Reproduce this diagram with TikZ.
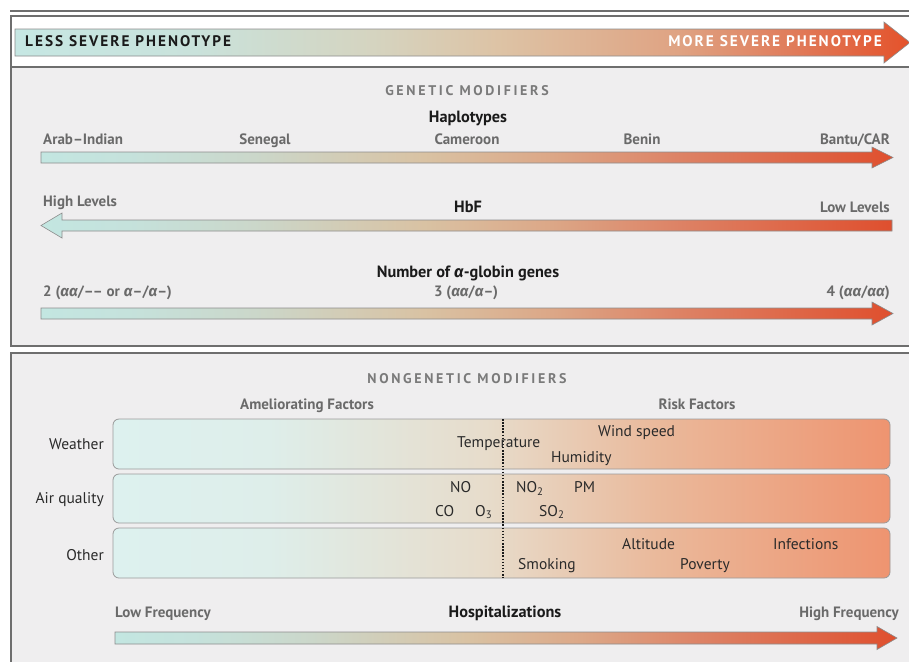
\documentclass[tikz,border=0pt]{standalone}
\usepackage{fontspec}
\setmainfont{PT Sans}
\newfontfamily\grkfont{Fira Sans}
\newcommand{\alp}{{\grkfont\itshape α}}
\definecolor{framegray}{HTML}{6E6E6E}
\definecolor{bggray}{HTML}{EFEEEF}
\definecolor{labelgray}{HTML}{6A6A6A}
\definecolor{hdrgray}{HTML}{7A7A7A}
\definecolor{titleblack}{HTML}{1A1A1A}
\definecolor{rowblack}{HTML}{2A2A2A}
\definecolor{arrowedge}{HTML}{8C8C8C}
\definecolor{boxedge}{HTML}{9A9A9A}
% arrow gradient stops
\definecolor{sA}{HTML}{C3E6E1}
\definecolor{sB}{HTML}{C5E2DC}
\definecolor{sC}{HTML}{CBD7CA}
\definecolor{sD}{HTML}{D9C2A3}
\definecolor{sE}{HTML}{DCA787}
\definecolor{sF}{HTML}{DD8265}
\definecolor{sG}{HTML}{DF4F2E}
% phenotype gradient stops
\definecolor{pA}{HTML}{C6E7E3}
\definecolor{pB}{HTML}{C9E2DB}
\definecolor{pC}{HTML}{D5D4C0}
\definecolor{pD}{HTML}{DDC3A5}
\definecolor{pE}{HTML}{DFA383}
\definecolor{pF}{HTML}{E07E5D}
\definecolor{pG}{HTML}{E4522B}
% box gradient stops
\definecolor{bA}{HTML}{DDF1EF}
\definecolor{bB}{HTML}{DEEEEA}
\definecolor{bC}{HTML}{E7DCCB}
\definecolor{bD}{HTML}{EAB99B}
\definecolor{bE}{HTML}{EE9470}
\pgfdeclarehorizontalshading{sevshade}{100bp}{color(0bp)=(sA); color(25bp)=(sA); color(30bp)=(sB); color(37.5bp)=(sC); color(47.5bp)=(sD); color(55bp)=(sE); color(62.5bp)=(sF); color(75bp)=(sG); color(100bp)=(sG)}
\pgfdeclarehorizontalshading{phenshade}{100bp}{color(0bp)=(pA); color(25bp)=(pA); color(35bp)=(pB); color(45bp)=(pC); color(52bp)=(pD); color(62bp)=(pE); color(68bp)=(pF); color(75bp)=(pG); color(100bp)=(pG)}
\pgfdeclarehorizontalshading{boxshade}{100bp}{color(0bp)=(bA); color(25bp)=(bA); color(35bp)=(bB); color(49bp)=(bC); color(60bp)=(bD); color(75bp)=(bE); color(100bp)=(bE)}
\begin{document}
\begin{tikzpicture}[x=1pt,y=-1pt,
  lbl/.style={font=\fontsize{15}{17}\selectfont\bfseries, text=labelgray, inner sep=0pt},
  ttl/.style={font=\fontsize{16.3}{18}\selectfont\bfseries, text=titleblack, inner sep=0pt},
  hdr/.style={font=\fontsize{14}{16}\selectfont\bfseries\addfontfeature{LetterSpace=19}, text=hdrgray, inner sep=0pt},
  phen/.style={font=\fontsize{15.3}{17}\selectfont\bfseries\addfontfeature{LetterSpace=13}, inner sep=0pt},
  rowtxt/.style={font=\fontsize{15.5}{17}\selectfont, text=rowblack, inner sep=0pt},
  arrowshape/.style={draw=arrowedge, line width=0.6pt, shade, shading=sevshade},
  rowbox/.style={draw=boxedge, line width=0.8pt, rounded corners=6pt, shade, shading=boxshade},
  frameline/.style={draw=framegray, line width=1.3pt}
]
\useasboundingbox (0,0) rectangle (909,662);
\fill[white] (0,0) rectangle (909,662);
% backgrounds
\fill[bggray] (11,67) rectangle (909,346);
\fill[bggray] (11,353) rectangle (909,662);
% frame lines
\draw[frameline] (10,11) -- (909,11);
\draw[frameline] (909,16) -- (11,16) -- (11,346) -- (909,346);
\draw[frameline] (909,67) -- (11,67);
\draw[frameline] (909,353) -- (11,353) -- (11,662);

% phenotype arrow
\path[draw=arrowedge, line width=0.6pt, shade, shading=phenshade]
  (15,29) -- (884,29) -- (884,22) -- (910,42.5) -- (884,63) -- (884,56) -- (15,56) -- cycle;
\node[phen, text=titleblack, anchor=base west] (less) at (25,46.5) {LESS SEVERE PHENOTYPE};
\node[phen, text=white, anchor=base east] (more) at (882,46.5) {MORE SEVERE PHENOTYPE};

% genetic modifiers
\node[hdr, anchor=base] (genhdr) at (467,95) {GENETIC MODIFIERS};
\node[ttl, anchor=base] (hap) at (468,122) {Haplotypes};
\node[lbl, anchor=base west] (arab) at (43,144) {Arab–Indian};
\node[lbl, anchor=base] (sene) at (265,144) {Senegal};
\node[lbl, anchor=base] (came) at (467,144) {Cameroon};
\node[lbl, anchor=base] (beni) at (642,144) {Benin};
\node[lbl, anchor=base east] (bant) at (890,144) {Bantu/CAR};
\path[arrowshape] (41,152) -- (872,152) -- (872,147) -- (893,157.5) -- (872,168) -- (872,163) -- (41,163) -- cycle;

\node[lbl, anchor=base west] (high) at (43,206.5) {High Levels};
\node[ttl, anchor=base] (hbf) at (468,212) {HbF};
\node[lbl, anchor=base east] (low) at (890,212) {Low Levels};
\path[arrowshape] (41,225.5) -- (62,213) -- (62,220) -- (892,220) -- (892,231) -- (62,231) -- (62,238) -- cycle;

\node[ttl, anchor=base] (alg) at (468,277) {Number of {\grkfont\bfseries\itshape α}-globin genes};
\node[lbl, anchor=base west] (two) at (43,296) {2 ({\grkfont\itshape αα}/–– or \alp–/\alp–)};
\node[lbl, anchor=base] (three) at (466,296) {3 ({\grkfont\itshape αα}/\alp–)};
\node[lbl, anchor=base east] (four) at (890,296) {4 ({\grkfont\itshape αα}/{\grkfont\itshape αα})};
\path[arrowshape] (41,308) -- (872,308) -- (872,302) -- (893,313.5) -- (872,325) -- (872,319) -- (41,319) -- cycle;

% nongenetic modifiers
\node[hdr, anchor=base] (nonhdr) at (467,383) {NONGENETIC MODIFIERS};
\node[lbl, anchor=base] (amel) at (307,409) {Ameliorating Factors};
\node[lbl, anchor=base] (risk) at (697,409) {Risk Factors};

\path[rowbox] (113,419) rectangle (890,469);
\path[rowbox] (113,474) rectangle (890,523);
\path[rowbox] (113,528) rectangle (890,578);
\draw[line width=1.5pt, dash pattern=on 1.5pt off 1.6pt, titleblack] (503,419) -- (503,578);

\node[rowtxt, anchor=base east] (weather) at (104,449) {Weather};
\node[rowtxt, anchor=base east] (air) at (104,503.5) {Air quality};
\node[rowtxt, anchor=base east] (other) at (104,560) {Other};

\node[rowtxt, anchor=base west] (temp) at (457,447.5) {Temperature};
\node[rowtxt, anchor=base west] (wind) at (598,436) {Wind speed};
\node[rowtxt, anchor=base west] (humi) at (551,462.5) {Humidity};

\node[rowtxt, anchor=base west] (no) at (450,492.5) {NO};
\node[rowtxt, anchor=base west] (no2) at (516,492.5) {NO\textsubscript{2}};
\node[rowtxt, anchor=base west] (pm) at (574,492.5) {PM};
\node[rowtxt, anchor=base west] (co) at (435,516) {CO};
\node[rowtxt, anchor=base west] (o3) at (475,516) {O\textsubscript{3}};
\node[rowtxt, anchor=base west] (so2) at (539,516) {SO\textsubscript{2}};

\node[rowtxt, anchor=base west] (alti) at (622,549.5) {Altitude};
\node[rowtxt, anchor=base west] (infe) at (773,549.5) {Infections};
\node[rowtxt, anchor=base west] (smok) at (518,569.5) {Smoking};
\node[rowtxt, anchor=base west] (pove) at (680,569.5) {Poverty};

% hospitalizations
\node[lbl, anchor=base west] (lowf) at (115,617) {Low Frequency};
\node[ttl, anchor=base] (hosp) at (505,617) {Hospitalizations};
\node[lbl, anchor=base east] (highf) at (899,617) {High Frequency};
\path[arrowshape] (115,632) -- (877,632) -- (877,626.5) -- (897,638) -- (877,649.5) -- (877,644) -- (115,644) -- cycle;
\end{tikzpicture}
\end{document}
